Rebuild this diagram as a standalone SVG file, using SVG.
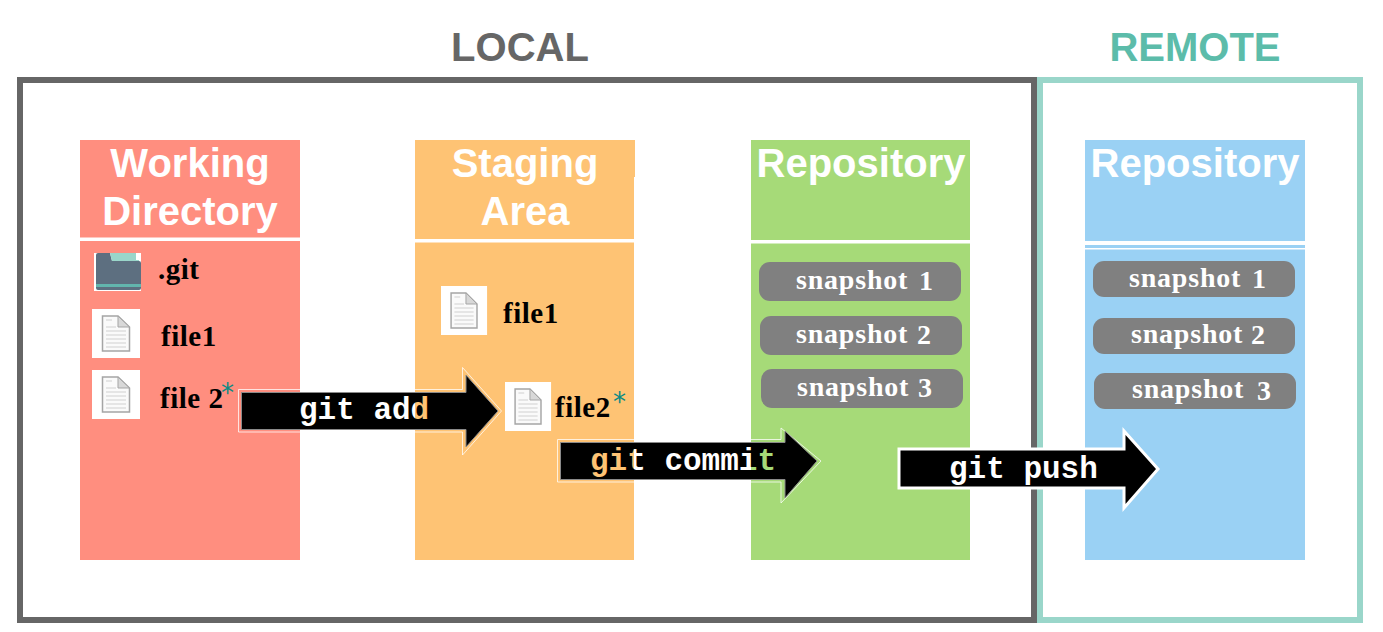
<svg xmlns="http://www.w3.org/2000/svg" width="1383" height="632" viewBox="0 0 1383 632">
<style>
.frame{fill:none;stroke-width:6}
.col{stroke:none}
.sep{fill:#fff}
.head{font:bold 40px "Liberation Sans",Arial,sans-serif;fill:#fff;text-anchor:middle}
.zone{font:bold 40px "Liberation Sans",Arial,sans-serif;text-anchor:middle}
.file{font:bold 29px "Liberation Serif","Times New Roman",serif;fill:#000;letter-spacing:.5px}
.snap{fill:#808080}
.snapt{font:bold 28px "Liberation Serif","Times New Roman",serif;fill:#fff;letter-spacing:.8px}
.star{font:26px "DejaVu Sans",sans-serif;fill:#0b8a84}
.cmd{font:bold 31px "Liberation Mono","Courier New",monospace}
.arrow{fill:#000;stroke:#8a8a8a;stroke-width:1;stroke-linejoin:miter}
.halo{fill:none;stroke:#fff;stroke-width:1;opacity:.75}
.sheet{fill:#fff}
.page{fill:#fafafa;stroke:#a5a5a5;stroke-width:1.5}
.ln{stroke:#d0d0d0;stroke-width:1}
</style>
<defs>
<linearGradient id="addText" gradientUnits="userSpaceOnUse" x1="0" y1="0" x2="1383" y2="0">
<stop offset="0.3001" stop-color="#fff"/><stop offset="0.3001" stop-color="#fec374"/>
</linearGradient>
<linearGradient id="commitText" gradientUnits="userSpaceOnUse" x1="0" y1="0" x2="1383" y2="0">
<stop offset="0.4584" stop-color="#fec374"/><stop offset="0.4584" stop-color="#fff"/>
<stop offset="0.5430" stop-color="#fff"/><stop offset="0.5430" stop-color="#a6da78"/>
</linearGradient>
<g id="doc">
<rect class="sheet" width="48" height="49"/>
<path class="page" d="M10.500 7H26L37.500 18V42H10.500Z"/>
<path d="M26 7V18H37.500Z" fill="#d8d8d8" stroke="#a5a5a5" stroke-width="1"/>
<path class="ln" d="M14 11H20M14 18H24M14 22H34M14 26H34M14 30H34M14 34H34M14 38H34"/>
</g>
</defs>
<text class="zone" x="520" y="61" fill="#666">LOCAL</text>
<text class="zone" x="1195" y="61" fill="#5cbcaa">REMOTE</text>
<rect id="local-frame" class="frame" x="20" y="80" width="1014" height="540" stroke="#666"/>
<rect id="remote-frame" class="frame" x="1040" y="80" width="320" height="540" stroke="#9ad6ca"/>
<g id="working-directory">
<rect class="col" x="80" y="140" width="220" height="420" fill="#ff8e7f"/>
<rect class="sep" x="80" y="237.500" width="220" height="3.500"/>
<text class="head" x="190" y="177">Working</text>
<text class="head" x="190" y="225">Directory</text>
<g id="git-folder">
<path d="M94 253H141V291H94Z" fill="#fff"/>
<path d="M98 253H110L112 261H139Q141 261 141 263V288Q141 290 139 290H98Q96 290 96 288V255Q96 253 98 253Z" fill="#5d6f80"/>
<path d="M110 253H136V260H139V261H112Z" fill="#9ad6ca"/>
<rect x="96" y="284" width="45" height="3" fill="#62b5ad"/>
</g>
<text class="file" x="158" y="279">.git</text>
<use href="#doc" x="92" y="309"/>
<text class="file" x="161" y="346">file1</text>
<use href="#doc" x="92" y="370"/>
<text class="file" x="160" y="408">file 2</text>
<text class="star" x="221" y="402">*</text>
</g>
<g id="staging-area">
<rect class="col" x="415" y="140" width="219" height="420" fill="#fec374"/>
<rect class="col" x="415" y="140" width="220" height="37" fill="#fec374"/>
<rect class="sep" x="415" y="239" width="220" height="3.500"/>
<text class="head" x="525" y="177">Staging</text>
<text class="head" x="525" y="225">Area</text>
<use href="#doc" transform="translate(441 286) scale(.96 1)"/>
<text class="file" x="503" y="323">file1</text>
<use href="#doc" transform="translate(505 382) scale(.96 1)"/>
<text class="file" x="555" y="417">file2</text>
<text class="star" x="613" y="411">*</text>
</g>
<g id="local-repository">
<rect class="col" x="751" y="140" width="219" height="420" fill="#a6da78"/>
<rect class="sep" x="751" y="240" width="220" height="3.500"/>
<text class="head" x="861" y="177">Repository</text>
<rect class="snap" x="759" y="262" width="202" height="39" rx="11"/>
<text class="snapt" x="796" y="289">snapshot</text><text class="snapt" x="919" y="290">1</text>
<rect class="snap" x="760" y="316" width="202" height="39" rx="11"/>
<text class="snapt" x="796" y="343">snapshot</text><text class="snapt" x="917" y="344">2</text>
<rect class="snap" x="761" y="369" width="202" height="39" rx="11"/>
<text class="snapt" x="797" y="396">snapshot</text><text class="snapt" x="918" y="397">3</text>
</g>
<g id="remote-repository">
<rect class="col" x="1085" y="140" width="220" height="420" fill="#9ad1f4"/>
<rect class="sep" x="1085" y="241" width="220" height="4"/>
<rect class="sep" x="1085" y="248" width="220" height="1.500"/>
<text class="head" x="1195" y="177">Repository</text>
<rect class="snap" x="1093" y="261" width="202" height="36" rx="11"/>
<text class="snapt" x="1129" y="287">snapshot</text><text class="snapt" x="1252" y="288">1</text>
<rect class="snap" x="1093" y="318" width="202" height="36" rx="11"/>
<text class="snapt" x="1131" y="343">snapshot</text><text class="snapt" x="1251" y="344">2</text>
<rect class="snap" x="1094" y="373" width="202" height="36" rx="11"/>
<text class="snapt" x="1132" y="398">snapshot</text><text class="snapt" x="1257" y="400">3</text>
</g>
<g id="connectors">
<g id="git-add">
<path class="halo" d="M238.500 389.500H462.500V367.500L501.500 411L462.500 455V432H238.500Z"/>
<path class="arrow" d="M241.500 392.500H466V375L498 411L466 447V429.500H241.500Z"/>
<text class="cmd" x="299" y="419" fill="url(#addText)">git add</text>
</g>
<g id="git-commit">
<path class="halo" d="M557.500 439.500H781V428L821 461L781 503V482H557.500Z"/>
<path class="arrow" d="M560.500 442.500H785V431L817 461L785 498V479.500H560.500Z"/>
<text class="cmd" x="590" y="470" fill="url(#commitText)">git commit</text>
</g>
<g id="git-push">
<path fill="#000" stroke="#fff" stroke-width="3" d="M899 449H1124V431L1158 469L1124 508V488H899Z"/>
<text class="cmd" x="949" y="478" fill="#fff">git push</text>
</g>
</g>
</svg>
